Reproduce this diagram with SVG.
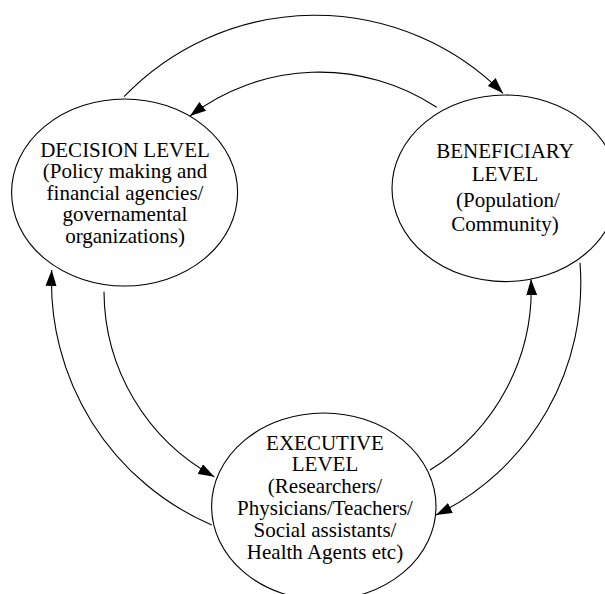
<svg xmlns="http://www.w3.org/2000/svg" width="605" height="594" viewBox="0 0 605 594">
  <style>
    .node { fill: #ffffff; stroke: #000000; stroke-width: 1.1; }
    .lbl { font-family: "Liberation Serif", "Times New Roman", serif; font-size: 21px; fill: #000000; text-anchor: middle; }
    .conn { fill: none; stroke: #000000; stroke-width: 1.1; marker-end: url(#arrow); }
  </style>
  <defs>
    <marker id="arrow" viewBox="0 0 16 11" markerWidth="16" markerHeight="11" refX="16" refY="5.5" orient="auto" markerUnits="userSpaceOnUse">
      <path d="M0,0 L16,5.5 L0,11 Z" fill="#000000"/>
    </marker>
  </defs>
  <rect x="0" y="0" width="605" height="594" fill="#ffffff"/>

  <g id="connectors">
    <path class="conn" d="M124,96.7 A265,265 0 0 1 503,93.3"/>
    <path class="conn" d="M436.7,107.3 A213,213 0 0 0 190,116"/>
    <path class="conn" d="M211.7,525 A265,265 0 0 1 51.7,270"/>
    <path class="conn" d="M104,291.7 A212,212 0 0 0 214.3,476.7"/>
    <path class="conn" d="M430,470 A212,212 0 0 0 531,279.3"/>
    <path class="conn" d="M580,262.7 A258,258 0 0 1 436,515"/>
  </g>

  <g id="decision">
    <ellipse class="node" cx="124.6" cy="192.5" rx="113" ry="93.5"/>
    <text class="lbl" x="125" y="156.7">DECISION LEVEL</text>
    <text class="lbl" x="125" y="178.3">(Policy making and</text>
    <text class="lbl" x="125" y="199.5">financial agencies/</text>
    <text class="lbl" x="125" y="221.3">governamental</text>
    <text class="lbl" x="125" y="243">organizations)</text>
  </g>

  <g id="beneficiary">
    <ellipse class="node" cx="505" cy="188.3" rx="113" ry="93.3"/>
    <text class="lbl" x="505" y="157.5">BENEFICIARY</text>
    <text class="lbl" x="505" y="181.3">LEVEL</text>
    <text class="lbl" x="508" y="206.5">(Population/</text>
    <text class="lbl" x="505" y="230.5">Community)</text>
  </g>

  <g id="executive">
    <ellipse class="node" cx="323.8" cy="506.5" rx="112.2" ry="93.5"/>
    <text class="lbl" x="325" y="449.5">EXECUTIVE</text>
    <text class="lbl" x="325" y="471.3">LEVEL</text>
    <text class="lbl" x="325" y="493.3">(Researchers/</text>
    <text class="lbl" x="325" y="514.8">Physicians/Teachers/</text>
    <text class="lbl" x="325" y="536.7">Social assistants/</text>
    <text class="lbl" x="325" y="559.3">Health Agents etc)</text>
  </g>
</svg>
